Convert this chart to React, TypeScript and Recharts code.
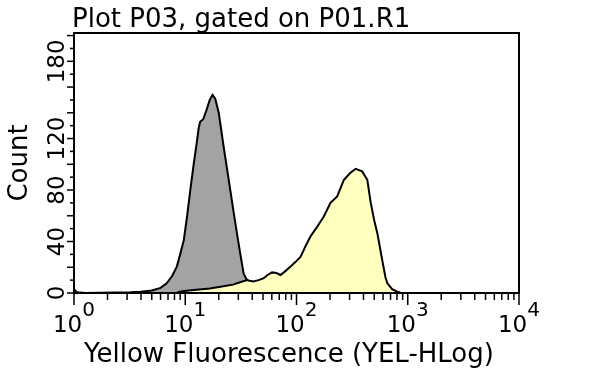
import React from 'react';
import { ComposedChart, Area, XAxis, YAxis, ReferenceArea, Label } from 'recharts';

// fluorescence channel values (log axis) and counts
const GREY_X = [1, 1.07, 1.26, 3.2, 4.0, 5.0, 6.0, 6.8, 7.6, 8.4, 9.0, 9.7, 10.4, 11.1, 11.9, 12.7, 13.2, 13.6, 14.5, 15.5, 16.6, 17.6, 18.6, 20.0, 22.1, 23.7, 25.4, 27.2, 29.2, 31.3, 33.5, 35.9, 38.5, 41.7, 44.7, 47.3];
const GREY_COUNT = [3, 0.5, 0, 0.5, 1, 2, 4, 7.5, 13, 20.5, 30, 41, 60, 80, 100, 117, 128, 133, 135, 142, 150, 154, 151, 140, 114, 97, 80, 63, 46, 30, 15, 10, 7.5, 4, 1.5, 0];

const YELLOW_X = [8.5, 9.8, 12.6, 16.6, 21.4, 26.9, 31.6, 36, 38, 41.2, 45.7, 50.7, 55, 60.3, 66, 71.8, 79.4, 88.3, 97.7, 108.6, 120, 133.7, 155, 176, 202, 232, 267, 302, 340, 389, 433, 465, 501, 533, 589, 631, 656, 724, 807, 871];
const YELLOW_COUNT = [0.5, 1.5, 2.5, 3.5, 5, 6.5, 8.5, 10, 9.5, 9, 10, 11.5, 14, 16, 15.5, 14, 17, 20.5, 24, 28, 36, 44, 52, 59.5, 70, 75, 88, 93, 96.5, 94.5, 88, 70, 56, 46.5, 25.7, 12, 7.5, 3, 1, 0];

const Y_TICKS = [0, 10, 20, 30, 40, 50, 60, 70, 80, 90, 100, 110, 120, 130, 140, 150, 160, 170, 180, 190, 200];
const Y_LABELS = [0, 40, 80, 120, 180];
const X_DECADES = [1, 10, 100, 1000, 10000];
const X_TICKS = [1, 2, 3, 4, 5, 6, 7, 8, 9, 10, 20, 30, 40, 50, 60, 70, 80, 90, 100, 200, 300, 400, 500, 600, 700, 800, 900, 1000, 2000, 3000, 4000, 5000, 6000, 7000, 8000, 9000, 10000];

const greyData = GREY_X.map((x, i) => ({ x, y: GREY_COUNT[i] }));
const yellowData = YELLOW_X.map((x, i) => ({ x, y: YELLOW_COUNT[i] }));

const FONT = '"DejaVu Sans", Verdana, sans-serif';

const YTick = (props: any) => {
    const { x, y, payload } = props;
    const v = payload.value;
    const long = v % 20 === 0;
    return (
        <g>
            <line x1={x} x2={x - (long ? 7 : 4)} y1={y} y2={y} stroke="#000" strokeWidth={1.5} />
            {Y_LABELS.includes(v) && (
                <text transform={`translate(${x - 10},${y}) rotate(-90)`} textAnchor="middle" fontSize={23} fontFamily={FONT} fill="#000">{v}</text>
            )}
        </g>
    );
};

const XTick = (props: any) => {
    const { x, y, payload } = props;
    const v = payload.value;
    const decade = X_DECADES.includes(v);
    return (
        <g>
            <line x1={x} x2={x} y1={y} y2={y + (decade ? 12 : 7)} stroke="#000" strokeWidth={1.5} />
            {decade && (
                <text x={x} y={y + 39} textAnchor="middle" fontSize={23} fontFamily={FONT} fill="#000">
                    10<tspan dy={-16} fontSize={20}>{Math.round(Math.log10(v))}</tspan>
                </text>
            )}
        </g>
    );
};

const App: React.FC = () => {
    return (
        <div style={{ position: 'absolute', left: 0, top: 0, width: 600, height: 370, background: '#fff' }}>
            <style>{'.yel .recharts-area-area { mix-blend-mode: multiply; }'}</style>
            <div style={{ position: 'absolute', left: 72, top: 5, fontFamily: FONT, fontSize: 26, lineHeight: '26px', whiteSpace: 'nowrap', color: '#000' }}>
                Plot P03, gated on P01.R1
            </div>
            <ComposedChart width={600} height={370} margin={{ top: 33, right: 81, left: 0, bottom: 0 }}>
                <XAxis
                    dataKey="x"
                    type="number"
                    scale="log"
                    domain={[1, 10000]}
                    ticks={X_TICKS}
                    tick={<XTick />}
                    tickSize={0}
                    tickMargin={0}
                    height={77}
                    axisLine={{ stroke: '#000', strokeWidth: 2 }}
                    allowDataOverflow
                    interval={0}
                >
                    <Label
                        content={() => (
                            <text x={289} y={362} textAnchor="middle" fontSize={26} fontFamily={FONT} fill="#000">Yellow Fluorescence (YEL-HLog)</text>
                        )}
                    />
                </XAxis>
                <YAxis
                    type="number"
                    domain={[0, 202]}
                    ticks={Y_TICKS}
                    tick={<YTick />}
                    tickSize={0}
                    tickMargin={0}
                    width={74}
                    axisLine={{ stroke: '#000', strokeWidth: 2 }}
                    interval={0}
                    allowDataOverflow
                >
                    <Label
                        content={() => (
                            <text transform="translate(27,163) rotate(-90)" textAnchor="middle" fontSize={26} fontFamily={FONT} fill="#000">Count</text>
                        )}
                    />
                </YAxis>
                <Area data={greyData} dataKey="y" type="linear" fill="#a3a3a3" fillOpacity={1} stroke="#000" strokeWidth={2} isAnimationActive={false} />
                <Area data={yellowData} dataKey="y" type="linear" className="yel" fill="#ffffc0" fillOpacity={1} stroke="#000" strokeWidth={2} isAnimationActive={false} />
                <ReferenceArea x1={1} x2={10000} y1={0} y2={202} fill="none" stroke="#000" strokeWidth={2} />
            </ComposedChart>
        </div>
    );
};

export default App;
